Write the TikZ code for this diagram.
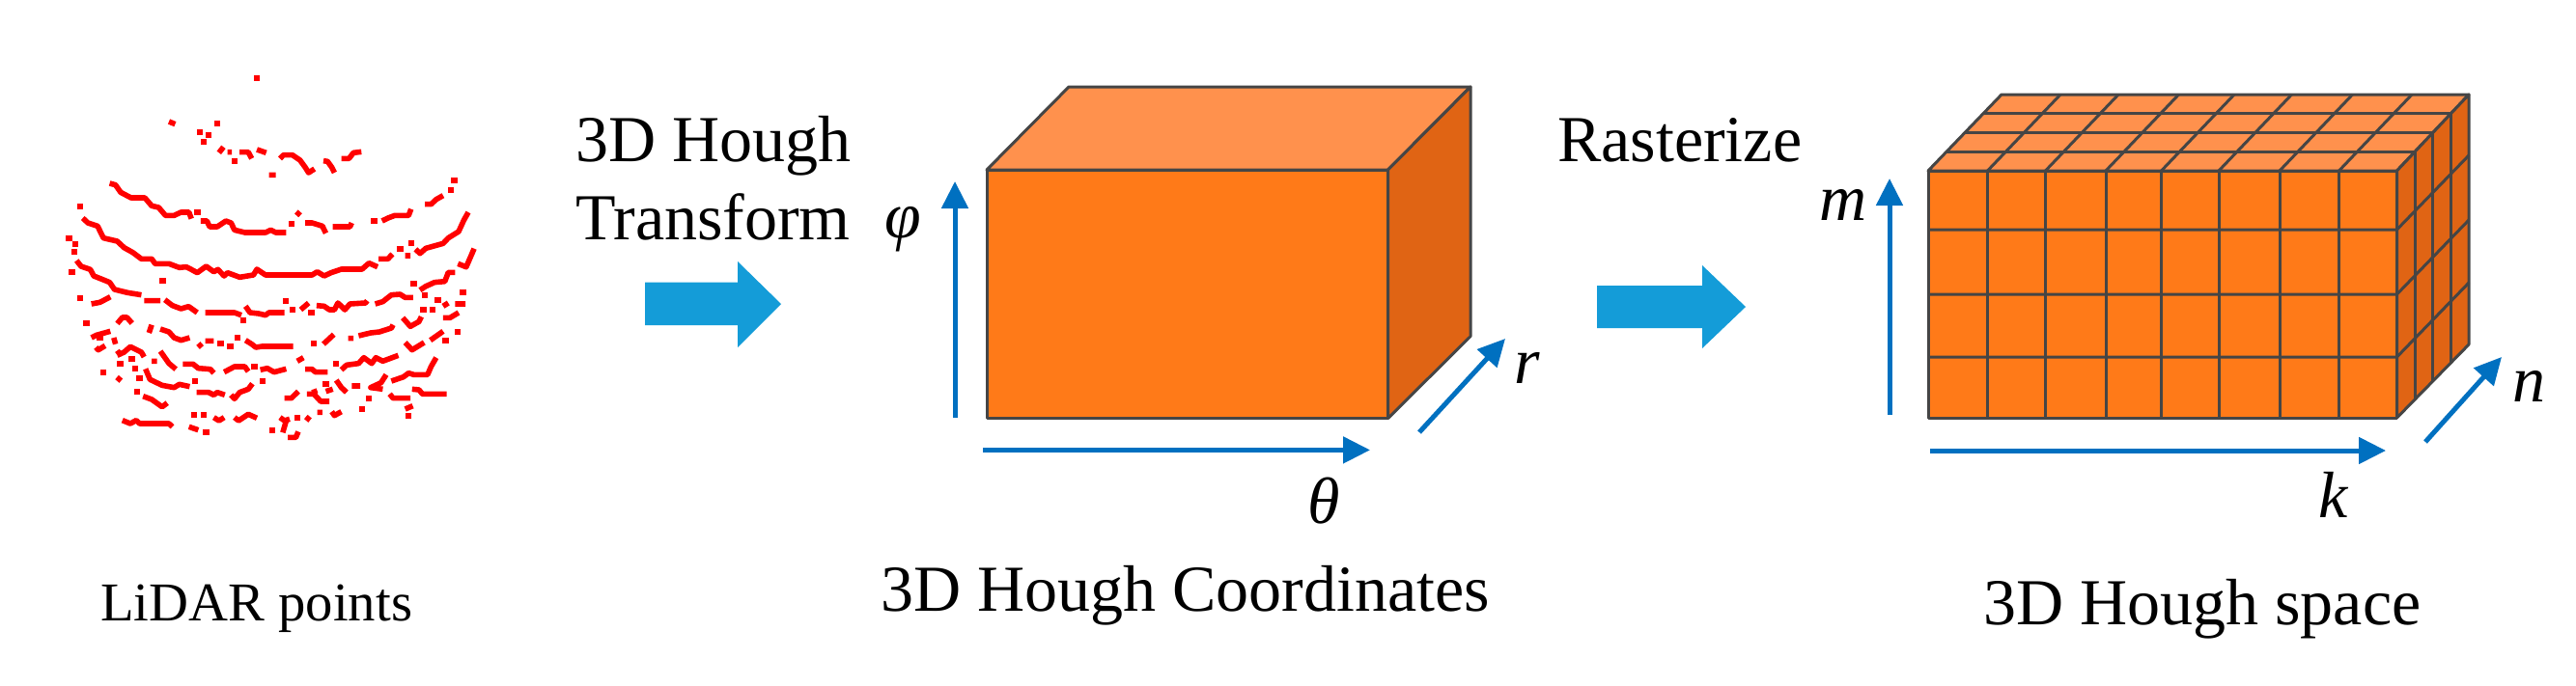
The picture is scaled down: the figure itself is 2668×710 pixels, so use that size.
\documentclass[tikz,border=0pt]{standalone}
\usepackage{fontspec}
\setmainfont{Liberation Serif}
\usetikzlibrary{arrows.meta}
\definecolor{frontc}{HTML}{FF7A18}
\definecolor{topc}{HTML}{FF914D}
\definecolor{sidec}{HTML}{E06414}
\definecolor{edgec}{HTML}{454545}
\definecolor{axisc}{HTML}{0070C0}
\definecolor{blockc}{HTML}{149CD8}
\tikzset{
 lbl/.style={inner sep=0pt,anchor=base west,font=\fontsize{68}{80}\selectfont,text=black},
 smalllbl/.style={lbl,font=\fontsize{56.7}{68}\selectfont},
 mathlbl/.style={inner sep=0pt,font=\fontsize{68}{80}\selectfont\itshape,text=black},
 axis/.style={draw=axisc,line width=5pt,-{Triangle[length=28pt,width=27pt]}},
 blockarrow/.style={fill=blockc,draw=none},
 edge/.style={draw=edgec,line width=3pt,line join=round},
 face/.style={edge,line width=3pt},
}
\begin{document}
\begin{tikzpicture}[x=1pt,y=-1pt]
\useasboundingbox (0,0) rectangle (2668,710);
\fill[white] (0,0) rectangle (2668,710);

% LiDAR points (in zoomed coordinates)
\begin{scope}[shift={(0pt,-40pt)},x=0.35714pt,y=-0.33333pt]
\draw[red,line width=5.6pt,line join=round,line cap=square]
 (490,258)--(508,266) (635,355)--(648,337) (660,353)--(672,353) (695,353)--(720,353)--(730,373) (745,345)--(772,355) (780,424)--(800,424)
 (812,373)--(822,362)--(848,362)--(870,378)--(885,400)--(895,417)--(912,405) (938,380)--(950,382)--(962,400)--(970,417) (990,373)--(1012,373)--(1025,355)--(1048,352)
 (318,450)--(335,455)--(350,478)--(380,495)--(420,495)--(440,520)--(460,525)--(480,550)--(505,550)--(525,540)--(548,540)--(555,560)
 (582,567)--(600,567)--(608,585)--(630,585)--(655,567)--(670,573)--(680,595)--(710,603)--(770,603)--(785,595)--(800,603)--(830,603)
 (860,550)--(870,538) (885,573)--(905,573)--(935,583)--(945,605) (965,585)--(1015,585)--(1020,573)
 (1108,567)--(1125,558)--(1145,550)--(1185,550)--(1192,530) (1232,515)--(1250,515)--(1265,500)--(1285,488)
 (240,558)--(255,573)--(283,583)--(300,620)--(340,630)--(360,650)--(385,665)--(410,685)--(440,685)--(450,700)--(490,700)--(520,712)--(540,710)--(555,718)--(572,728)--(598,708)--(620,725)--(632,718)--(650,738)--(660,728)--(695,742)--(735,735)--(745,717)--(770,735)--(905,735)--(920,725)--(940,738)--(960,728)--(990,717)--(1050,717)--(1070,698)--(1095,710)
 (1098,685)--(1125,685)--(1138,670) (1175,675)--(1190,675)
 (1205,655)--(1218,668)--(1235,652)--(1285,637)--(1300,620)--(1330,600)--(1345,565)--(1358,540)
 (222,690)--(235,708)--(262,718)--(272,738)--(300,750)--(318,758)--(332,780)--(370,790)--(410,797)
 (265,825)--(290,820)--(320,803) (418,815)--(465,815) (478,812)--(500,830)--(525,840)--(547,833)--(572,852)
 (595,852)--(680,852)--(700,860) (712,832)--(725,852)--(750,855)--(770,860)--(780,852)--(825,852)
 (872,843)--(895,822) (918,830)--(940,832)--(955,843)--(970,843)--(980,822)--(1000,843)--(1015,825)--(1060,822)--(1065,815)
 (1088,825)--(1110,818)--(1135,797)--(1160,795)--(1175,805)--(1198,805)
 (1218,782)--(1235,770)--(1260,758)--(1290,755)--(1300,727)--(1320,727) (1328,700)--(1352,710)--(1375,653)
 (340,886)--(355,867)--(368,867)--(383,885) (265,930)--(280,922)--(320,910) (330,930)--(335,950) (278,960)--(285,968)--(305,955)
 (432,915)--(440,890) (465,903)--(490,912)--(505,930)--(525,938)--(550,930) (575,948)--(585,960) (595,940)--(620,940)
 (712,938)--(730,950)--(742,960)--(760,957)--(850,957) (938,950)--(950,938)--(968,920) (1010,932)--(1025,932)
 (1040,924)--(1075,915)--(1100,912)--(1135,900)--(1140,890) (1168,868)--(1190,895)--(1215,880)--(1222,865)
 (1285,868)--(1305,868)--(1330,852) (1285,832)--(1300,822) (1320,825)--(1350,825) (1175,945)--(1195,968)--(1230,945) (1248,938)--(1285,910)
 (340,985)--(360,975)--(378,958)--(410,975)--(418,990) (340,970)--(350,985) (440,1003)--(455,1003) (465,972)--(490,1010)--(510,1028)
 (530,1012)--(560,1012)--(575,1025)--(610,1028)--(620,1040) (650,1037)--(680,1020)--(710,1020)--(720,1035)
 (755,1030)--(775,1025)--(795,1037)--(830,1027) (862,1003)--(880,992) (885,1028)--(905,1028)--(915,1037)--(950,1037)
 (990,1030)--(1005,1015)--(1040,1010)--(1055,992)--(1078,1010)--(1090,992)--(1110,1003)--(1155,985)
 (1265,992)--(1250,1020)--(1240,1045)--(1200,1045)--(1185,1040)--(1170,1052)--(1135,1065) (1120,1045)--(1105,1070)--(1075,1085)--(1110,1090)
 (340,1065)--(350,1052)
 (422,1027)--(435,1060)--(470,1078)--(505,1085)--(520,1075)--(550,1082) (570,1100)--(605,1100)--(620,1108)--(630,1100)--(652,1108)
 (670,1108)--(680,1120)--(695,1100)--(720,1090)--(732,1073) (825,1118)--(845,1118)--(865,1097) (890,1105)--(910,1105)--(930,1128)--(955,1128)
 (910,1090)--(915,1105) (945,1097)--(965,1090) (975,1062)--(990,1085)--(1005,1100) (1020,1080)--(1045,1080)
 (1130,1105)--(1140,1118)--(1190,1118) (1195,1090)--(1215,1092)--(1225,1105)--(1295,1105)
 (415,1112)--(440,1122)--(470,1145)--(485,1133)
 (355,1187)--(378,1197)--(395,1187)--(405,1197)--(490,1197)--(500,1207) (548,1207)--(575,1217)
 (620,1178)--(635,1188)--(650,1178) (680,1178)--(692,1188)--(720,1168)--(745,1180)
 (812,1178)--(825,1188)--(840,1183) (830,1188)--(820,1225) (835,1240)--(858,1240)--(865,1222) (888,1188)--(898,1175)
 (920,1162)--(935,1162) (962,1160)--(970,1172)--(990,1160) (1175,1152)--(1197,1142);
\foreach \px/\py in {745/123,630/265,580/291,605/300,590/321,680/382,572/540,845/575,1085/567,1308/470,1317/442,233/522,1160/655,1192/637,200/620,218/638,215/662,208/727,472/753,233/806,705/877,828/815,848/843,903/852,1200/762,1232/797,1342/790,250/886,290/930,640/948,668/957,688/930,910/948,1228/843,1255/843,1270/813,1292/940,1327/912,382/995,738/1020,975/1012,348/1010,392/1027,300/1037,405/1055,565/1065,762/1065,945/1073,1070/1118,398/1097,598/1223,562/1170,590/1170,790/1217,862/1178,1050/1152,1185/1172}
  \fill[red] (\px-9,\py-9) rectangle (\px+9,\py+9);
\end{scope}

\node[smalllbl] (lidar) at (104,643) {LiDAR points};

% Text
\node[lbl] (hough1) at (596,167) {3D Hough};
\node[lbl] (hough2) at (596,248.6) {Transform};
\node[lbl] (coords) at (912,633) {3D Hough Coordinates};
\node[lbl] (raster) at (1613,167) {Rasterize};
\node[lbl] (space) at (2054,647) {3D Hough space};

% Block arrows
\fill[blockarrow] (668,292.5)--(764,292.5)--(764,271)--(809,315)--(764,360)--(764,337)--(668,337)--cycle;
\fill[blockarrow] (1654,296)--(1763,296)--(1763,275)--(1808,318)--(1763,361)--(1763,340)--(1654,340)--cycle;

% Plain cube
\filldraw[face,fill=topc] (1022,176)--(1107,90)--(1523,90)--(1437.5,176)--cycle;
\filldraw[face,fill=sidec] (1437.5,176)--(1523,90)--(1523,348.6)--(1437.5,433.6)--cycle;
\filldraw[face,fill=frontc] (1022,176) rectangle (1437.5,433.6);

% Axes of the cube
\coordinate (phiS) at (989,432.5); \coordinate (phiE) at (989,188);
\coordinate (thS) at (1018,466.4); \coordinate (thE) at (1419,466.4);
\coordinate (rS) at (1470,448); \coordinate (rE) at (1559,351);
\draw[axis] (phiS)--(phiE);
\draw[axis] (thS)--(thE);
\draw[axis] (rS)--(rE);
\node[mathlbl] (phi) at (935,238) {φ};
\node[mathlbl] (theta) at (1371,519) {θ};
\node[mathlbl] (r) at (1582,381) {r};

% Rasterised cube
\filldraw[face,fill=topc] (1997,177)--(2073,98)--(2557,98)--(2482.5,177)--cycle;
\filldraw[face,fill=sidec] (2482.5,177)--(2557,98)--(2557,357)--(2482.5,433)--cycle;
\filldraw[face,fill=frontc] (1997,177) rectangle (2482.5,433);
\foreach \fx in {2058.5,2118.5,2181,2238.5,2298,2361,2422.5}{
  \draw[edge] (\fx,177)--(\fx,433);
  \draw[edge] (\fx,177)--++(75.5,-79);
}
\foreach \fy in {238,305,370}{
  \draw[edge] (1997,\fy)--(2482.5,\fy)--++(74.5,-77);
}
\foreach \f in {0.25,0.5,0.75}{
  \draw[edge] ({1997+\f*76},{177-\f*79})--({2482.5+\f*74.5},{177-\f*79})--({2482.5+\f*74.5},{433-\f*76});
}
\coordinate (mS) at (1957,430); \coordinate (mE) at (1957,185);
\coordinate (kS) at (1999,467); \coordinate (kE) at (2471,467);
\coordinate (nS) at (2512,458); \coordinate (nE) at (2591,370);
\draw[axis] (mS)--(mE);
\draw[axis] (kS)--(kE);
\draw[axis] (nS)--(nE);
\node[mathlbl] (m) at (1909,212) {m};
\node[mathlbl] (k) at (2417,513) {k};
\node[mathlbl] (n) at (2619,400) {n};
\end{tikzpicture}
\end{document}
